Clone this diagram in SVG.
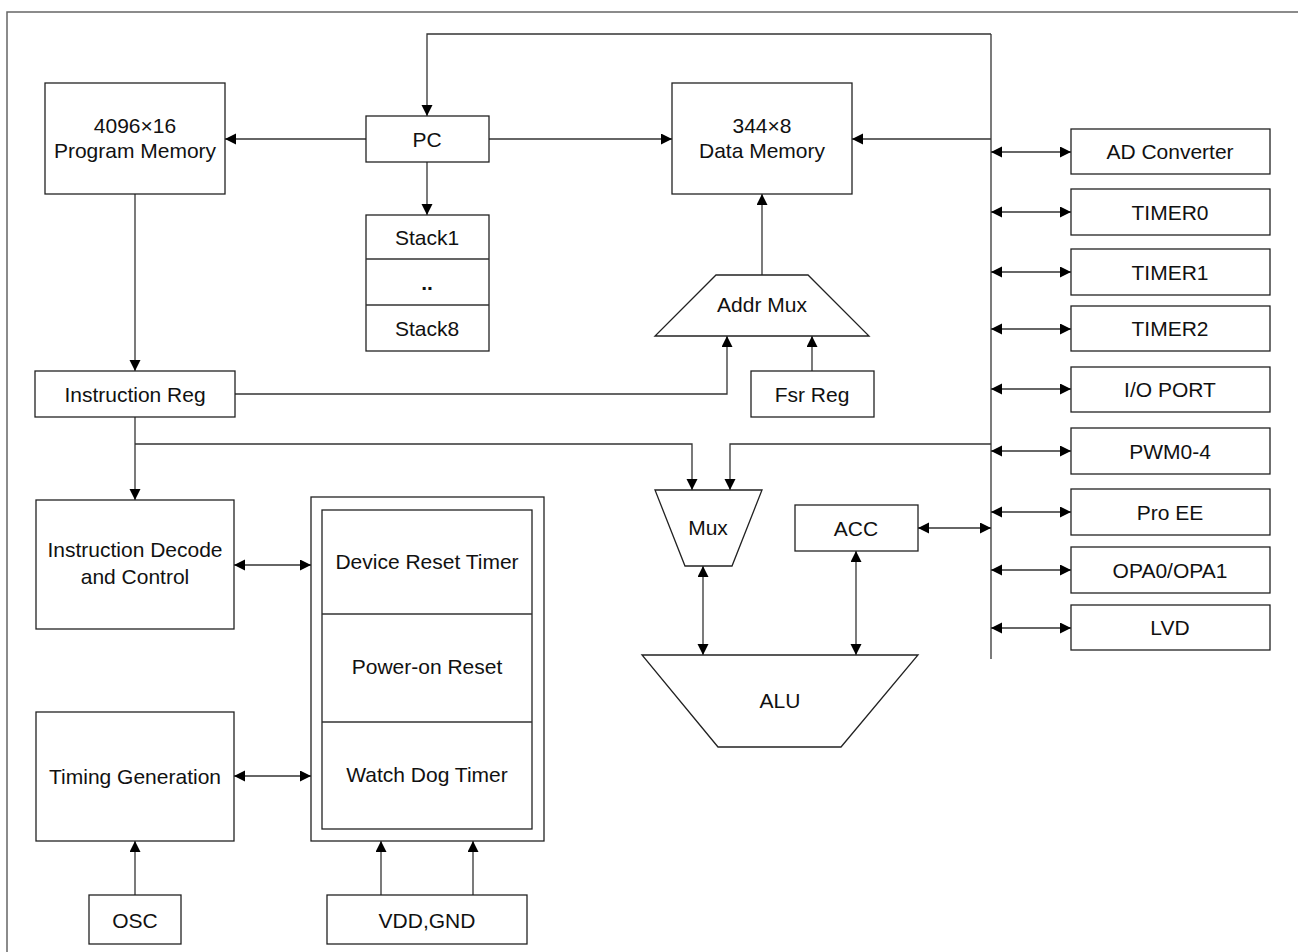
<svg xmlns="http://www.w3.org/2000/svg" width="1298" height="952" viewBox="0 0 1298 952">
<style>
.b{fill:#fff;stroke:#222;stroke-width:1.3}
.c{fill:none;stroke:#333;stroke-width:1.3}
.ae{marker-end:url(#ah)}
.ab{marker-start:url(#ah);marker-end:url(#ah)}
text{font-family:"Liberation Sans",Arial,sans-serif;font-size:21px;fill:#111;text-anchor:middle}
</style>
<defs>
<marker id="ah" markerUnits="userSpaceOnUse" markerWidth="12" markerHeight="12" refX="11" refY="5.5" orient="auto-start-reverse">
<path d="M0,0 L11,5.5 L0,11 z" fill="#000"/>
</marker>
</defs>
<rect width="1298" height="952" fill="#fff"/>
<path d="M7,952 V12 H1298" fill="none" stroke="#666" stroke-width="1.5"/>

<g id="connectors">
<path class="c" d="M991,34 V659"/>
<path class="c ae" d="M991,34 H427 V116"/>
<path class="c ae" d="M366,139 H225"/>
<path class="c ae" d="M489,139 H672"/>
<path class="c ae" d="M427,162 V215"/>
<path class="c ae" d="M991,139 H852"/>
<path class="c ae" d="M135,194 V371"/>
<path class="c ae" d="M235,394 H727 V336"/>
<path class="c ae" d="M812,371 V336"/>
<path class="c ae" d="M762,275 V194"/>
<path class="c ae" d="M135,417 V500"/>
<path class="c ae" d="M135,444 H692 V490"/>
<path class="c ae" d="M991,444 H730 V490"/>
<path class="c ab" d="M703,566 V655"/>
<path class="c ab" d="M856,551 V655"/>
<path class="c ab" d="M918,528 H991"/>
<path class="c ab" d="M991,152 H1071"/>
<path class="c ab" d="M991,212 H1071"/>
<path class="c ab" d="M991,272 H1071"/>
<path class="c ab" d="M991,329 H1071"/>
<path class="c ab" d="M991,389 H1071"/>
<path class="c ab" d="M991,451 H1071"/>
<path class="c ab" d="M991,512 H1071"/>
<path class="c ab" d="M991,570 H1071"/>
<path class="c ab" d="M991,628 H1071"/>
<path class="c ab" d="M234,565 H311"/>
<path class="c ab" d="M234,776 H311"/>
<path class="c ae" d="M135,895 V841"/>
<path class="c ae" d="M381,895 V841"/>
<path class="c ae" d="M473,895 V841"/>
</g>

<g id="program-memory"><rect class="b" x="45" y="83" width="180" height="111"/><text x="135" y="133">4096×16</text><text x="135" y="158">Program Memory</text></g>
<g id="pc"><rect class="b" x="366" y="116" width="123" height="46"/><text x="427" y="147">PC</text></g>
<g id="stack"><rect class="b" x="366" y="215" width="123" height="136"/><path class="c" d="M366,259 H489 M366,305 H489"/><text x="427" y="245">Stack1</text><text x="427" y="290" font-weight="bold">..</text><text x="427" y="336">Stack8</text></g>
<g id="data-memory"><rect class="b" x="672" y="83" width="180" height="111"/><text x="762" y="133">344×8</text><text x="762" y="158">Data Memory</text></g>
<g id="addr-mux"><path class="b" d="M716,275 H808 L869,336 H655 Z"/><text x="762" y="312">Addr Mux</text></g>
<g id="fsr-reg"><rect class="b" x="751" y="371" width="123" height="46"/><text x="812" y="402">Fsr Reg</text></g>
<g id="instruction-reg"><rect class="b" x="35" y="371" width="200" height="46"/><text x="135" y="402">Instruction Reg</text></g>
<g id="instruction-decode"><rect class="b" x="36" y="500" width="198" height="129"/><text x="135" y="557">Instruction Decode</text><text x="135" y="584">and Control</text></g>
<g id="reset-block"><rect class="b" x="311" y="497" width="233" height="344"/><rect class="b" x="322" y="510" width="210" height="319"/><path class="c" d="M322,614 H532 M322,722 H532"/><text x="427" y="569">Device Reset Timer</text><text x="427" y="674">Power-on Reset</text><text x="427" y="782">Watch Dog Timer</text></g>
<g id="timing-generation"><rect class="b" x="36" y="712" width="198" height="129"/><text x="135" y="784">Timing Generation</text></g>
<g id="osc"><rect class="b" x="89" y="895" width="92" height="49"/><text x="135" y="928">OSC</text></g>
<g id="vdd-gnd"><rect class="b" x="327" y="895" width="200" height="49"/><text x="427" y="928">VDD,GND</text></g>
<g id="mux"><path class="b" d="M655,490 H762 L732,566 H685 Z"/><text x="708" y="535">Mux</text></g>
<g id="acc"><rect class="b" x="795" y="505" width="123" height="46"/><text x="856" y="536">ACC</text></g>
<g id="alu"><path class="b" d="M642,655 H918 L841,747 H718 Z"/><text x="780" y="708">ALU</text></g>
<g id="ad-converter"><rect class="b" x="1071" y="129" width="199" height="45"/><text x="1170" y="159">AD Converter</text></g>
<g id="timer0"><rect class="b" x="1071" y="189" width="199" height="46"/><text x="1170" y="220">TIMER0</text></g>
<g id="timer1"><rect class="b" x="1071" y="249" width="199" height="46"/><text x="1170" y="280">TIMER1</text></g>
<g id="timer2"><rect class="b" x="1071" y="306" width="199" height="45"/><text x="1170" y="336">TIMER2</text></g>
<g id="io-port"><rect class="b" x="1071" y="367" width="199" height="45"/><text x="1170" y="397">I/O PORT</text></g>
<g id="pwm"><rect class="b" x="1071" y="428" width="199" height="46"/><text x="1170" y="459">PWM0-4</text></g>
<g id="pro-ee"><rect class="b" x="1071" y="489" width="199" height="46"/><text x="1170" y="520">Pro EE</text></g>
<g id="opa"><rect class="b" x="1071" y="547" width="199" height="46"/><text x="1170" y="578">OPA0/OPA1</text></g>
<g id="lvd"><rect class="b" x="1071" y="605" width="199" height="45"/><text x="1170" y="635">LVD</text></g>
</svg>
